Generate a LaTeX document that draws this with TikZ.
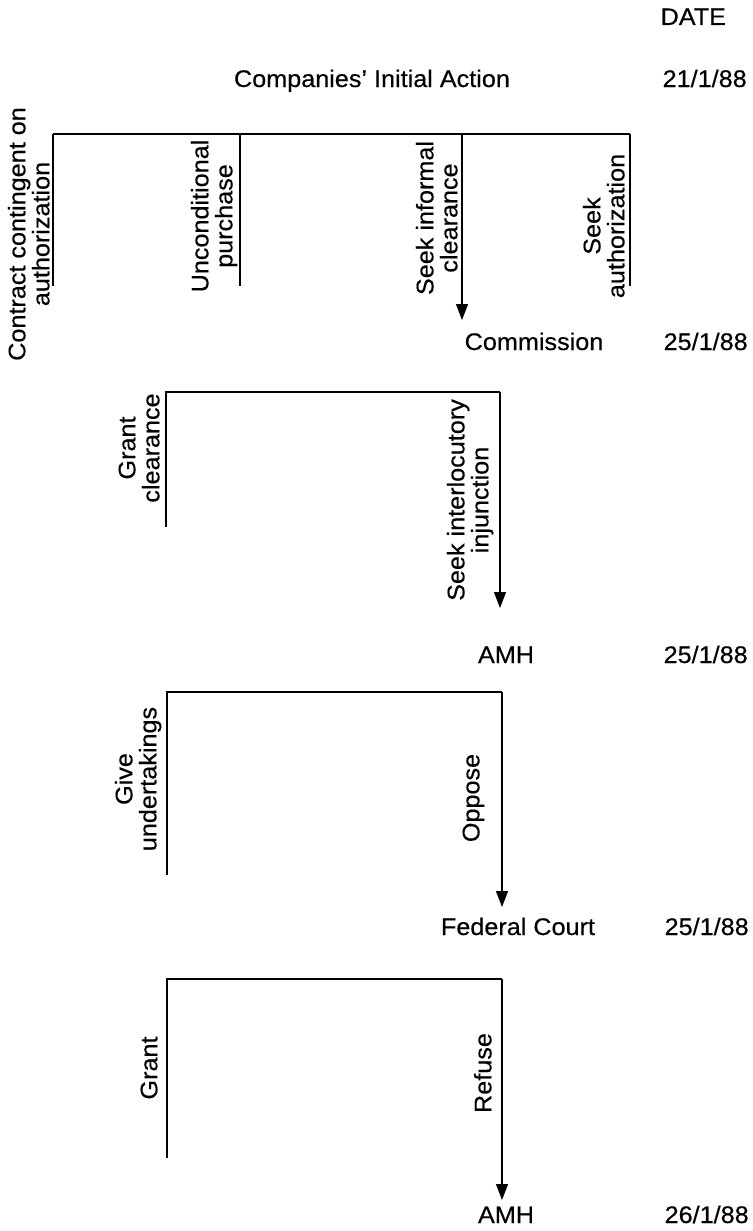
\documentclass[tikz,border=0pt]{standalone}
\usepackage{fontspec}
\setmainfont{Liberation Sans}[FakeStretch=1.05,FakeBold=0.4]
\usetikzlibrary{arrows.meta}
\tikzset{
  lbl/.style={rotate=90,anchor=south,align=center,inner sep=0pt,text depth=0pt,font=\fontsize{12}{12}\selectfont},
  txt/.style={inner sep=0pt,anchor=base,font=\fontsize{12}{12}\selectfont},
  dte/.style={txt,anchor=base west},
  arr/.style={-{Triangle[length=8pt,width=6pt]}},
}
\begin{document}
\begin{tikzpicture}[x=0.5pt,y=-0.5pt,line width=0.65pt]
            \useasboundingbox (0,0) rectangle (753,1231);
            % dates
            \node[dte] (datehead) at (660,25) {DATE};
            \node[dte] (d1) at (662,87) {21/1/88};
            \node[dte] (d2) at (663,350) {25/1/88};
            \node[dte] (d3) at (663,663) {25/1/88};
            \node[dte] (d4) at (664,935) {25/1/88};
            \node[dte] (d5) at (664,1223) {26/1/88};
            % actors
            \node[txt] (companies) at (372,87) {Companies' Initial Action};
            \node[txt] (commission) at (534,350) {Commission};
            \node[txt] (amh1) at (506,663) {AMH};
            \node[txt] (court) at (518,935) {Federal Court};
            \node[txt] (amh2) at (506,1223) {AMH};
            % first choice
            \coordinate (c1) at (53,134);
            \coordinate (c2) at (240,134);
            \coordinate (c3) at (462,134);
            \coordinate (c4) at (630,134);
            \coordinate (c1e) at (53,286);
            \coordinate (c2e) at (240,286);
            \coordinate (c3e) at (462,320);
            \coordinate (c4e) at (630,286);
            \draw (c1) -- (c4);
            \draw (c1) -- (c1e);
            \draw (c2) -- (c2e);
            \draw (c4) -- (c4e);
            \draw[arr] (c3) -- (c3e);
            \node[lbl] (contract) at (50,234) {Contract contingent on\\authorization};
            \node[lbl] (uncond) at (233,216) {Unconditional\\purchase};
            \node[lbl] (informal) at (458,218) {Seek informal\\clearance};
            \node[lbl] (seekauth) at (625,226) {Seek\\authorization};
            % commission
            \coordinate (m1) at (166,392);
            \coordinate (m2) at (500,392);
            \coordinate (m1e) at (166,527);
            \coordinate (m2e) at (500,608);
            \draw (m1e) -- (m1) -- (m2);
            \draw[arr] (m2) -- (m2e);
            \node[lbl] (grantclr) at (160,448) {Grant\\clearance};
            \node[lbl] (injunct) at (489,500) {Seek interlocutory\\injunction};
            % amh
            \coordinate (h1) at (167,692);
            \coordinate (h2) at (502,692);
            \coordinate (h1e) at (167,875);
            \coordinate (h2e) at (502,907);
            \draw (h1e) -- (h1) -- (h2);
            \draw[arr] (h2) -- (h2e);
            \node[lbl] (giveund) at (157,779) {Give\\undertakings};
            \node[lbl] (oppose) at (480,798) {Oppose};
            % court
            \coordinate (f1) at (167,979);
            \coordinate (f2) at (502,979);
            \coordinate (f1e) at (167,1158);
            \coordinate (f2e) at (502,1200);
            \draw (f1e) -- (f1) -- (f2);
            \draw[arr] (f2) -- (f2e);
            \node[lbl] (grant) at (158,1068) {Grant};
            \node[lbl] (refuse) at (492,1073) {Refuse};
        \end{tikzpicture}
\end{document}
